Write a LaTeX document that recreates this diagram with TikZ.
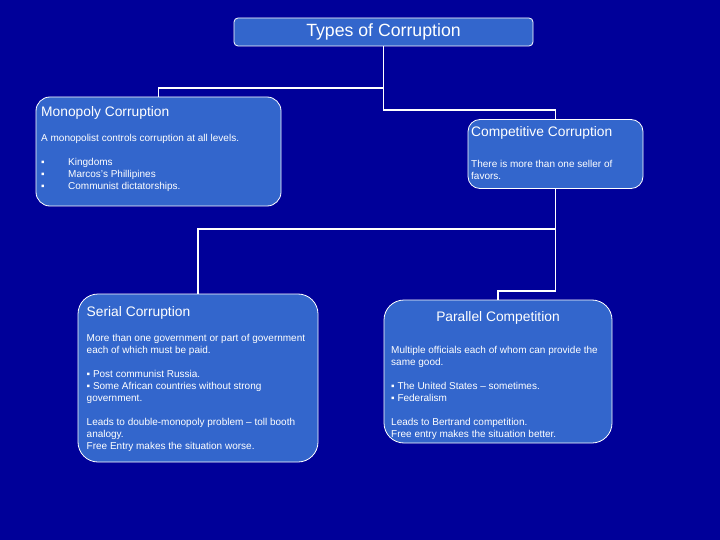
\documentclass[tikz,border=0pt]{standalone}
\usepackage{fontspec}
\setmainfont{Liberation Sans}
\usetikzlibrary{calc, positioning}
\definecolor{slidebg}{HTML}{000099}
\definecolor{boxblue}{HTML}{3366CC}
\tikzset{
  box/.style={draw=white, line width=0.8pt, fill=boxblue, text=white, inner sep=0pt},
  wire/.style={draw=white, line width=1.8pt},
  ttl/.style={text=white, inner sep=0pt, font=\fontsize{13.8}{16}\selectfont},
  body/.style={text=white, inner sep=0pt, align=left, anchor=north west, font=\fontsize{10}{12}\selectfont}
}
\newcommand{\sqb}{\makebox[27pt][l]{▪}}

\begin{document}
\begin{tikzpicture}[x=1pt, y=-1pt]
  \useasboundingbox (0,0) rectangle (720,540);
  \fill[slidebg] (0,0) rectangle (720,540);
  % boxes
  \node[box, rounded corners=4pt, minimum width=299pt, minimum height=28pt,
        font=\fontsize{17.7}{20}\selectfont] (top) at (383.5,32) {Types of Corruption};
  \node[box, rounded corners=14pt, minimum width=245pt, minimum height=109pt] (mono) at (158.5,151.5) {};
  \node[box, rounded corners=12pt, minimum width=175pt, minimum height=69pt] (comp) at (555.5,154) {};
  \node[box, rounded corners=20pt, minimum width=240pt, minimum height=168pt] (serial) at (198,378) {};
  \node[box, rounded corners=20pt, minimum width=228pt, minimum height=143pt] (par) at (498,371.5) {};
  % connectors
  \draw[wire] (top.south) -- ++(0,42) -| (mono.north);
  \draw[wire] (top.south) -- ++(0,64) -| (comp.north);
  \draw[wire] (comp.south) -- ++(0,40) -| (serial.north);
  \draw[wire] (comp.south) -- ++(0,102) -| (par.north);
  % texts
  \node[ttl, anchor=base west] (monot) at (41,116.5) {Monopoly Corruption};
  \node[body] (monob) at (41,134.3) {A monopolist controls corruption at all levels.\\[12pt]
    \sqb Kingdoms\\ \sqb Marcos's Phillipines\\ \sqb Communist dictatorships.};
  \node[ttl, anchor=base west] (compt) at (471,136.5) {Competitive Corruption};
  \node[body] (compb) at (471,159.6) {There is more than one seller of\\ favors.};
  \node[ttl, anchor=base west] (serialt) at (86.5,316) {Serial Corruption};
  \node[body] (serialb) at (86.5,333.6) {More than one government or part of government\\
    each of which must be paid.\\[12pt]
    ▪ Post communist Russia.\\ ▪ Some African countries without strong\\ government.\\[12pt]
    Leads to double-monopoly problem -- toll booth\\ analogy.\\ Free Entry makes the situation worse.};
  \node[ttl, anchor=base] (part) at (498,321) {Parallel Competition};
  \node[body] (parb) at (391,345.6) {Multiple officials each of whom can provide the\\
    same good.\\[12pt]
    ▪ The United States -- sometimes.\\ ▪ Federalism\\[12pt]
    Leads to Bertrand competition.\\ Free entry makes the situation better.};
\end{tikzpicture}
\end{document}
